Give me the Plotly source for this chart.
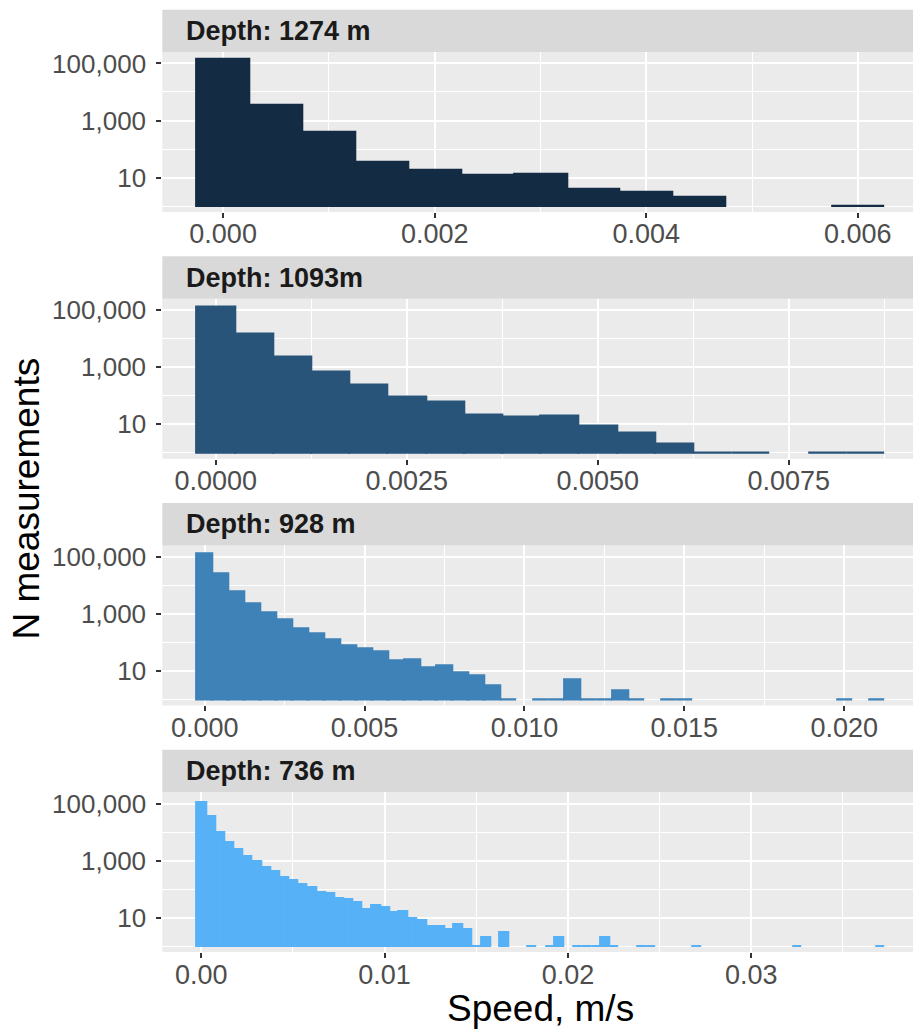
import plotly.graph_objects as go

# ---- data ----
bin_width = 0.0005  # m/s, bins centred on multiples of bin_width

panel_titles = ["Depth: 1274 m", "Depth: 1093m", "Depth: 928 m", "Depth: 736 m"]
panel_colors = ["#132B43", "#28547A", "#3E82B8", "#56B1F7"]

counts_1274 = [142000, 3450, 380, 34, 19, 12, 13, 4, 3, 2, 0, 0, 1]
counts_1093 = [134000, 15300, 2420, 690, 240, 95, 60, 22, 18, 20, 9, 5, 2, 1, 1, 0, 1, 1]
counts_928 = [134000, 26900, 6340, 2420, 1140, 634, 316, 212, 128, 81, 61, 50, 23, 26,
              13, 16, 9, 7, 3, 1, 0, 1, 1, 5, 1, 1, 2, 1, 0, 1, 1,
              0, 0, 0, 0, 0, 0, 0, 0, 0, 1, 0, 1]
counts_736 = [115000, 36000, 10200, 4300, 2450, 1400, 930, 607, 428, 264, 213, 154, 118,
              77, 73, 50, 44, 34, 20, 28, 23, 15, 17, 10, 8, 5, 5, 4, 6, 4, 1, 2, 0, 3,
              0, 0, 1, 0, 1, 2, 0, 1, 1, 1, 2, 1, 0, 0, 1, 1, 0, 0, 0, 0, 1,
              0, 0, 0, 0, 0, 0, 0, 0, 0, 0, 1, 0, 0, 0, 0, 0, 0, 0, 0, 1]
panel_counts = [counts_1274, counts_1093, counts_928, counts_736]

x_ranges = [[-0.000575, 0.006522], [-0.0007, 0.009127],
            [-0.001325, 0.02215], [-0.002125, 0.03882]]
x_tickvals = [[0, 0.002, 0.004, 0.006], [0, 0.0025, 0.005, 0.0075],
              [0, 0.005, 0.010, 0.015, 0.020], [0, 0.01, 0.02, 0.03]]
x_ticktext = [["0.000", "0.002", "0.004", "0.006"],
              ["0.0000", "0.0025", "0.0050", "0.0075"],
              ["0.000", "0.005", "0.010", "0.015", "0.020"],
              ["0.00", "0.01", "0.02", "0.03"]]
x_minor = [[0.001, 0.003, 0.005], [0.00125, 0.00375, 0.00625, 0.00875],
           [0.0025, 0.0075, 0.0125, 0.0175], [0.005, 0.015, 0.025, 0.035]]

y_tickvals = [10, 1000, 100000]
y_ticktext = ["10", "1,000", "100,000"]
y_minor = [1, 100, 10000]

# ---- layout geometry (pixels) ----
W, H = 913, 1029
LEFT = 162.3
strip_tops = [6.7, 254.1, 501.5, 748.9]
STRIP_H = 42.5
PLOT_H = 160.5
FONT = "Liberation Sans, Arial, sans-serif"

fig = go.Figure()
shapes = []
annotations = []
layout_axes = {}

for k in range(4):
    counts = panel_counts[k]
    col = panel_colors[k]
    xs = [i * bin_width for i, c in enumerate(counts) if c > 0]
    ys = [c - 1 for c in counts if c > 0]
    sfx = "" if k == 0 else str(k + 1)
    fig.add_trace(go.Bar(
        x=xs, y=ys, base=1, width=bin_width,
        marker=dict(color=col, line=dict(color=col, width=2.2)),
        xaxis="x" + sfx, yaxis="y" + sfx, showlegend=False, hoverinfo="skip",
    ))
    top = strip_tops[k] + STRIP_H
    bot = top + PLOT_H
    ydom = [1 - bot / H, 1 - top / H]
    xdom = [LEFT / W, 1.0]
    layout_axes["xaxis" + sfx] = dict(
        domain=xdom, anchor="y" + sfx, range=x_ranges[k],
        tickmode="array", tickvals=x_tickvals[k], ticktext=x_ticktext[k],
        ticks="outside", ticklen=5, tickwidth=1.5, tickcolor="#333333",
        ticklabelstandoff=-7,
        tickfont=dict(family=FONT, size=27, color="#4D4D4D"),
        showgrid=True, gridcolor="white", gridwidth=2,
        minor=dict(tickmode="array", tickvals=x_minor[k], showgrid=True,
                   gridcolor="white", gridwidth=1, ticks=""),
        zeroline=False, showline=False, fixedrange=True,
    )
    layout_axes["yaxis" + sfx] = dict(
        domain=ydom, anchor="x" + sfx, type="log", range=[-0.21, 5.40],
        tickmode="array", tickvals=y_tickvals, ticktext=y_ticktext,
        ticks="outside", ticklen=5, tickwidth=1.5, tickcolor="#333333",
        ticklabelstandoff=5,
        tickfont=dict(family=FONT, size=26, color="#4D4D4D"),
        showgrid=True, gridcolor="white", gridwidth=2,
        minor=dict(tickmode="array", tickvals=y_minor, showgrid=True,
                   gridcolor="white", gridwidth=1, ticks=""),
        zeroline=False, showline=False, fixedrange=True,
    )
    # strip
    s_top = strip_tops[k]
    shapes.append(dict(type="rect", xref="paper", yref="paper",
                       x0=LEFT / W, x1=1.0,
                       y0=1 - (s_top + STRIP_H) / H, y1=1 - s_top / H,
                       fillcolor="#D9D9D9", line=dict(width=0), layer="below"))
    annotations.append(dict(text="<b>" + panel_titles[k] + "</b>", xref="paper", yref="paper",
                            x=184 / W, y=1 - (s_top + STRIP_H / 2) / H,
                            xanchor="left", yanchor="middle", showarrow=False,
                            font=dict(family=FONT, size=27, color="#1A1A1A")))

annotations.append(dict(text="Speed, m/s", xref="paper", yref="paper",
                        x=540 / W, y=1 - 1008 / H, xanchor="center", yanchor="middle",
                        showarrow=False, font=dict(family=FONT, size=37, color="black")))
annotations.append(dict(text="N measurements", xref="paper", yref="paper",
                        x=27 / W, y=1 - 497 / H, xanchor="center", yanchor="middle",
                        textangle=-90, showarrow=False,
                        font=dict(family=FONT, size=37, color="black")))

fig.update_layout(
    width=W, height=H, margin=dict(l=0, r=0, t=0, b=0),
    paper_bgcolor="white", plot_bgcolor="#EBEBEB",
    barmode="overlay", bargap=0,
    shapes=shapes, annotations=annotations,
    **layout_axes,
)

fig.write_html("out.html")
